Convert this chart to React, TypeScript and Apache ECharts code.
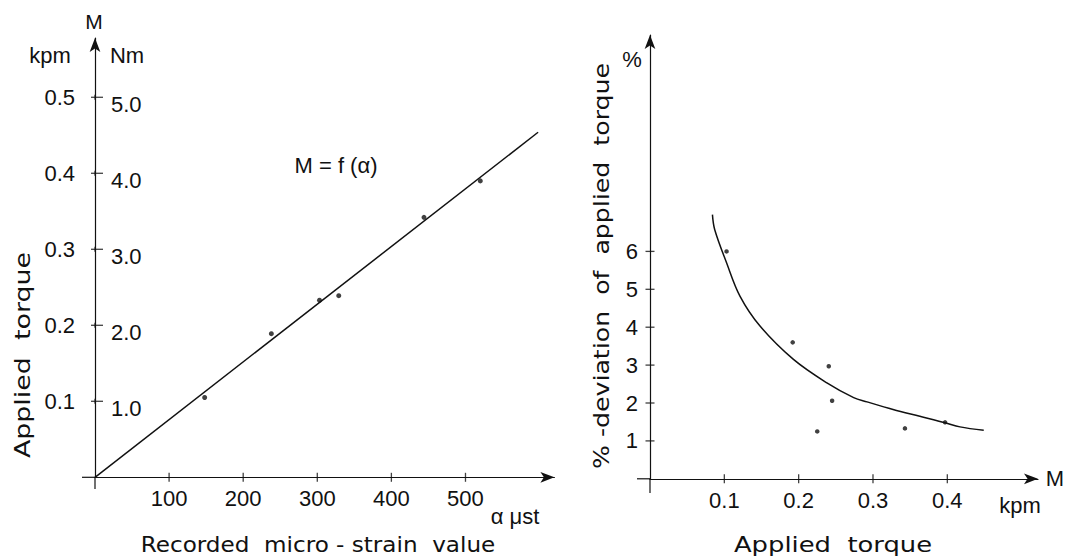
import React, { useEffect, useRef } from "react";
import * as echarts from "echarts";

// ---- Left chart: M = f(alpha) ----
const strainTicks = [100, 200, 300, 400, 500];
const torqueTicks = [0.1, 0.2, 0.3, 0.4, 0.5];
const strainValues = [148, 238, 303, 329, 444, 520];
const torqueValues = [0.105, 0.189, 0.233, 0.239, 0.342, 0.39];
const fitStrain = [0, 598];
const fitTorque = [0, 0.454];

// ---- Right chart: % deviation vs applied torque ----
const kpmTicks = [0.1, 0.2, 0.3, 0.4];
const pctTicks = [1, 2, 3, 4, 5, 6];
const devTorque = [0.103, 0.192, 0.2405, 0.245, 0.225, 0.343, 0.397];
const devPercent = [6.0, 3.6, 2.97, 2.06, 1.25, 1.33, 1.49];
const curveTorque = [0.084, 0.087, 0.103, 0.121, 0.148, 0.193, 0.238, 0.274, 0.292, 0.327, 0.363, 0.397, 0.417, 0.449];
const curvePercent = [6.97, 6.58, 5.7, 4.82, 4.03, 3.15, 2.53, 2.14, 2.03, 1.83, 1.65, 1.48, 1.37, 1.28];

const INK = "#111";
const FONT = "Liberation Sans";
const TFONT = "DejaVu Sans";

const zip = (a: number[], b: number[]) => a.map((v, i) => [v, b[i]]);
const onX = (a: number[]) => a.map((v) => [v, 0]);
const onY = (a: number[]) => a.map((v) => [0, v]);

const lineStyle = { color: INK, width: 1.2 };

function mainAxis(extra: any) {
  return {
    type: "value",
    splitLine: { show: false },
    axisLine: { show: true, onZero: false, lineStyle, symbol: ["none", "arrow"], symbolSize: [8, 14] },
    axisTick: { show: false },
    ...extra,
  };
}

const labelFont = { fontFamily: FONT, fontSize: 22, color: INK };

// grid geometry (px)
const LG = { left: 95, top: 38, right: 1075 - 554.4, bottom: 559 - 477.3 };
const RG = { left: 650, top: 35, right: 1075 - 1038, bottom: 559 - 478.8 };

function tickSeries(xi: number, yi: number, data: number[][], size: number[], offset: number[] = [0, 0]) {
  return {
    type: "scatter", xAxisIndex: xi, yAxisIndex: yi, data,
    symbol: "rect", symbolSize: size, symbolOffset: offset,
    itemStyle: { color: INK }, clip: false, silent: true, z: 5,
  };
}

function caption(text: string, x: number, y: number, size: number, opts: any = {}) {
  return {
    type: "text", x, y, ...opts,
    style: { text, font: `${size}px ${opts.family || FONT}`, fill: INK, textAlign: "center", textVerticalAlign: "middle" },
  };
}

export default function App() {
  const ref = useRef<HTMLDivElement>(null);
  useEffect(() => {
    const chart = echarts.init(ref.current!, null, { renderer: "svg" });
    const option: any = {
      animation: false,
      backgroundColor: "#fff",
      grid: [
        { ...LG, containLabel: false },
        { ...RG, containLabel: false },
      ],
      xAxis: [
        mainAxis({
          gridIndex: 0, min: 0, max: 620, interval: 100,
          axisLabel: { ...labelFont, margin: 10, customValues: strainTicks, formatter: (v: number) => (v > 0 && v <= 500 ? String(v) : "") },
        }),
        mainAxis({
          gridIndex: 1, min: 0, max: 0.522, interval: 0.1,
          axisLabel: { ...labelFont, margin: 11, customValues: kpmTicks, formatter: (v: number) => (v > 0 && v < 0.45 ? v.toFixed(1) : "") },
        }),
      ],
      yAxis: [
        mainAxis({
          gridIndex: 0, min: 0, max: 0.578, interval: 0.1, position: "left",
          axisLabel: { ...labelFont, margin: 20, customValues: torqueTicks, formatter: (v: number) => (v > 0 && v < 0.55 ? v.toFixed(1) : "") },
        }),
        {
          type: "value", gridIndex: 0, min: 0, max: 0.578, interval: 0.1, position: "left", offset: 0,
          splitLine: { show: false }, axisLine: { show: false }, axisTick: { show: false },
          axisLabel: {
            show: true, inside: true, ...labelFont, margin: 16, verticalAlign: "top", lineHeight: 14,
            customValues: torqueTicks,
            formatter: (v: number) => (v > 0 && v < 0.55 ? (v * 10).toFixed(1) : ""),
          },
        },
        mainAxis({
          gridIndex: 1, min: 0, max: 11.71, interval: 1, position: "left",
          axisLabel: { ...labelFont, margin: 12, customValues: pctTicks, formatter: (v: number) => (v > 0 && v <= 6 ? String(v) : "") },
        }),
      ],
      series: [
        {
          type: "line", xAxisIndex: 0, yAxisIndex: 0,
          data: zip(fitStrain, fitTorque), showSymbol: false, symbol: "none", clip: false,
          lineStyle: { color: INK, width: 1.5 },
        },
        {
          type: "scatter", xAxisIndex: 0, yAxisIndex: 0,
          data: zip(strainValues, torqueValues), symbolSize: 5,
          itemStyle: { color: INK },
        },
        {
          type: "line", xAxisIndex: 1, yAxisIndex: 2,
          data: zip(curveTorque, curvePercent), showSymbol: false, symbol: "none", smooth: 0.35,
          lineStyle: { color: INK, width: 1.5 },
        },
        {
          type: "scatter", xAxisIndex: 1, yAxisIndex: 2,
          data: zip(devTorque, devPercent), symbolSize: 4.5,
          itemStyle: { color: INK },
        },
        // tick crosses
        tickSeries(0, 0, onX(strainTicks), [1.3, 9]),
        tickSeries(0, 0, onY(torqueTicks), [12, 1.3], [2, 0]),
        tickSeries(0, 0, onY(torqueTicks), [1.3, 5]),
        tickSeries(1, 2, onX(kpmTicks), [1.3, 9]),
        tickSeries(1, 2, onY(pctTicks), [9, 1.3]),
      ],
      graphic: [
        // axis stubs past the origin
        { type: "line", shape: { x1: 82, y1: 477.3, x2: 95, y2: 477.3 }, style: { stroke: INK, lineWidth: 1.2 } },
        { type: "line", shape: { x1: 95, y1: 477.3, x2: 95, y2: 489 }, style: { stroke: INK, lineWidth: 1.2 } },
        { type: "line", shape: { x1: 637, y1: 478.8, x2: 650, y2: 478.8 }, style: { stroke: INK, lineWidth: 1.2 } },
        { type: "line", shape: { x1: 650, y1: 478.8, x2: 650, y2: 493 }, style: { stroke: INK, lineWidth: 1.2 } },
        // left axis captions
        caption("M", 94, 21, 21),
        caption("kpm", 50, 55, 22),
        caption("Nm", 127, 55, 22),
        caption("α μst", 515, 516, 22),
        caption("M = f (α)", 336, 165, 22),
        caption("Recorded  micro - strain  value", 318, 545, 21, { family: TFONT, scaleX: 1.1 }),
        caption("Applied  torque", 23, 355, 21, { family: TFONT, rotation: Math.PI / 2, scaleX: 1.28 }),
        // right axis captions
        caption("%", 632, 59, 22),
        caption("M", 1055, 478, 22),
        caption("kpm", 1020, 505, 22),
        caption("Applied  torque", 833, 545, 21, { family: TFONT, scaleX: 1.23 }),
        caption("% -deviation  of  applied  torque", 601, 266, 21, { family: TFONT, rotation: Math.PI / 2, scaleX: 1.2 }),
      ],
    };
    chart.setOption(option);
    return () => chart.dispose();
  }, []);
  return (
    <div
      ref={ref}
      style={{ position: "fixed", left: 0, top: 0, width: 1075, height: 559, background: "#fff" }}
    />
  );
}
